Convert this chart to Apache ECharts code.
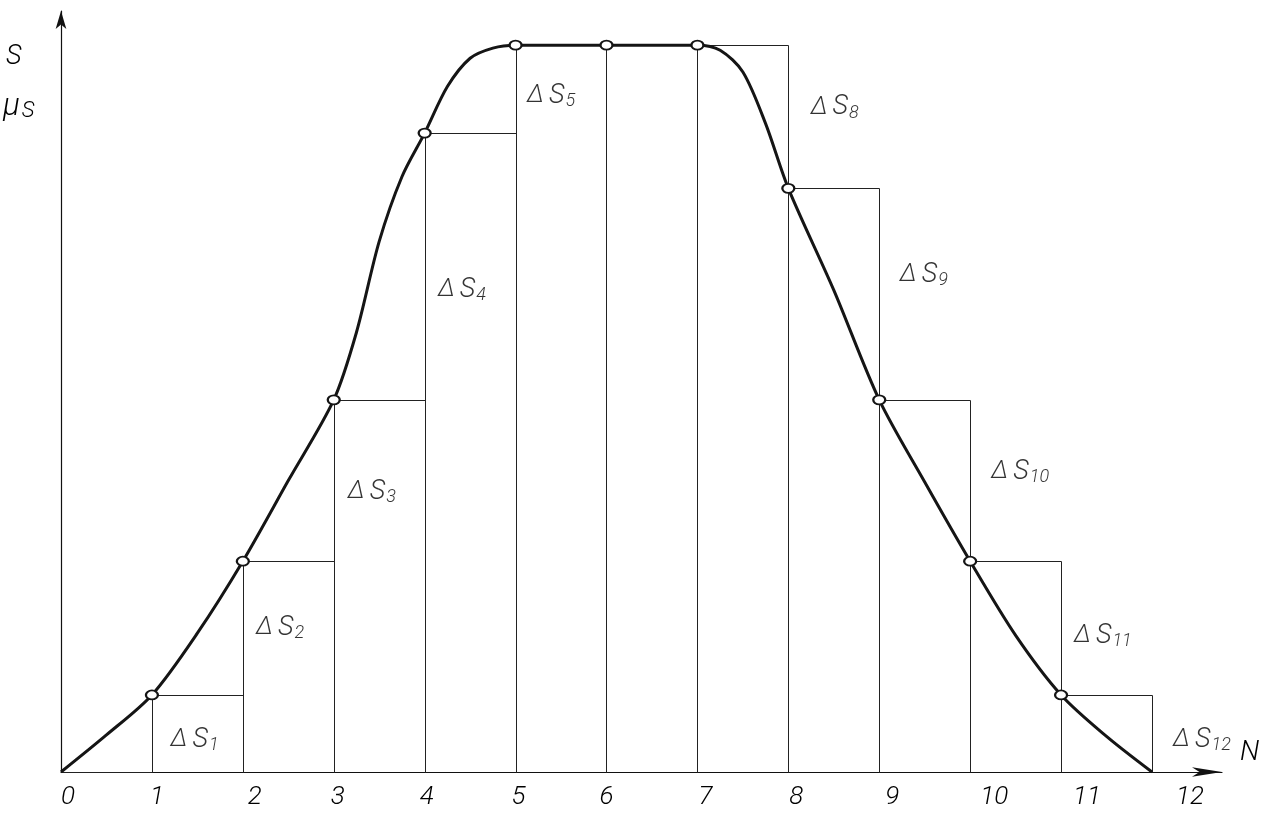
<!DOCTYPE html>
<html>
<head>
<meta charset="utf-8">
<script src="https://cdn.jsdelivr.net/npm/echarts@6/dist/echarts.min.js"></script>
<style>
html,body{margin:0;padding:0;background:#fff;}
#chart{width:1269px;height:819px;}
</style>
</head>
<body>
<div id="chart"></div>
<script>
// Node values (S at N = 0..12)
const nodeN = [0, 1, 2, 3, 4, 5, 6, 7, 8, 9, 10, 11, 12];
const nodeS = [0, 10.6, 29.0, 51.2, 87.9, 100, 100, 100, 80.3, 51.2, 29.0, 10.6, 0];

// Curve (N, S)
const curveN = [0, 0.5, 1, 1.5, 2, 2.5, 3, 3.25, 3.5, 3.75, 4, 4.25, 4.5, 4.75, 5, 5.5, 6, 6.5, 7, 7.25, 7.5, 7.75, 8, 8.5, 9, 9.5, 10, 10.5, 11, 11.5, 12];
const curveS = [0, 5.1, 10.6, 19.1, 29.0, 40.1, 51.2, 60.5, 73.0, 81.9, 87.9, 94.3, 98.2, 99.6, 100, 100, 100, 100, 100, 99.3, 96.3, 89.2, 80.3, 66.3, 51.2, 39.9, 29.0, 18.8, 10.6, 4.9, 0];

// Tick labels
const tickLabels = ['0','1','2','3','4','5','6','7','8','9','10','11','12'];

// Increment labels ΔS_k
const deltaIdx = [1, 2, 3, 4, 5, 8, 9, 10, 11, 12];
// label anchor positions (data units)
const deltaPosN = [1.47, 2.41, 3.42, 4.41, 5.39, 8.51, 9.49, 10.55, 11.46, 12.55];
const deltaPosS = [4.4, 19.8, 38.5, 66.3, 93.0, 91.4, 68.4, 41.3, 18.7, 4.4];
// horizontal shift of tick labels (px)
const tickShift = [7, 5, 12, 4, 2, 3, 0, 8, 8, 13, 24, 26, 38];

const FONT = "Roboto, 'Open Sans', sans-serif";
const FW = 300;

const chart = echarts.init(document.getElementById('chart'), null, {renderer: 'canvas'});

const stepData = nodeS.slice(0, 12).map((s, i) => [nodeN[i], s]);
const curveData = curveN.map((n, i) => [n, curveS[i]]);
const nodeData = nodeN.map((n, i) => [n, nodeS[i]]).slice(1, 12);
const deltaData = deltaIdx.map((k, i) => ({value: [deltaPosN[i], deltaPosS[i]], k: k}));

const tickRich = {};
tickLabels.forEach((t, i) => {
  tickRich['t' + i] = {padding: [0, 0, 0, 2 * tickShift[i]], fontFamily: FONT, fontWeight: FW, fontStyle: 'italic', fontSize: 26, color: '#000'};
});

const option = {
  animation: false,
  backgroundColor: '#fff',
  grid: {left: 61, right: 47, top: 11, bottom: 47, containLabel: false},
  xAxis: {
    type: 'value', min: 0, max: 12.77, interval: 1,
    axisLine: {show: true, symbol: ['none', 'arrow'], symbolSize: [7, 30], lineStyle: {color: '#111', width: 1.2}},
    axisTick: {show: false},
    splitLine: {show: false},
    axisLabel: {
      margin: 12,
      formatter: v => (v >= 0 && v <= 12 && Number.isInteger(v)) ? '{t' + v + '|' + tickLabels[v] + '}' : '',
      rich: tickRich
    },
    name: 'N', nameLocation: 'end', nameGap: 18,
    nameTextStyle: {fontFamily: FONT, fontWeight: FW, fontStyle: 'italic', fontSize: 28, color: '#000', verticalAlign: 'bottom', padding: [0, 0, 5, 0]}
  },
  yAxis: {
    type: 'value', min: 0, max: 104.7,
    axisLine: {show: true, symbol: ['none', 'arrow'], symbolSize: [8, 18], lineStyle: {color: '#111', width: 1.2}},
    axisTick: {show: false},
    splitLine: {show: false},
    axisLabel: {show: false}
  },
  graphic: [
    {type: 'text', left: 6, top: 44, style: {text: 'S', font: 'italic 300 27px ' + FONT, fill: '#000'}},
    {type: 'text', left: 3, top: 92, style: {text: '{m|μ}{s|S}', fill: '#000',
      rich: {m: {fontFamily: FONT, fontWeight: FW, fontStyle: 'italic', fontSize: 31, color: '#000'},
             s: {fontFamily: FONT, fontWeight: FW, fontStyle: 'italic', fontSize: 22, color: '#000', padding: [8, 0, 0, 2]}}}}
  ],
  series: [
    {
      type: 'custom',
      name: 'steps',
      data: stepData,
      silent: true,
      z: 1,
      renderItem: function (params, api) {
        const i = api.value(0), h = api.value(1);
        const p0 = api.coord([i, 0]);
        const p1 = api.coord([i + 1, h]);
        const x0 = Math.round(p0[0]) + 0.5, x1 = Math.round(p1[0]) + 0.5;
        const yTop = Math.round(p1[1]) + 0.5, yBot = Math.round(p0[1]) + 0.5;
        return {
          type: 'polyline',
          shape: {points: [[x0, yBot], [x0, yTop], [x1, yTop], [x1, yBot]]},
          style: {fill: null, stroke: '#222', lineWidth: 1}
        };
      }
    },
    {
      type: 'line',
      name: 'curve',
      data: curveData,
      smooth: 0.3,
      showSymbol: false,
      symbol: 'none',
      lineStyle: {color: '#151515', width: 3},
      z: 3
    },
    {
      type: 'scatter',
      name: 'nodes',
      data: nodeData,
      symbol: 'circle',
      symbolSize: [12, 9],
      itemStyle: {color: '#fff', borderColor: '#151515', borderWidth: 2, opacity: 1},
      z: 4
    },
    {
      type: 'scatter',
      name: 'labels',
      data: deltaData,
      symbolSize: 0,
      clip: false,
      silent: true,
      z: 5,
      label: {
        show: true, position: 'inside',
        formatter: p => '{d|Δ}{s|S}{k|' + p.data.k + '}',
        rich: {
          d: {fontFamily: FONT, fontWeight: FW, fontStyle: 'italic', fontSize: 25, color: '#000', padding: [0, 5, 0, 0]},
          s: {fontFamily: FONT, fontWeight: FW, fontStyle: 'italic', fontSize: 27, color: '#000'},
          k: {fontFamily: FONT, fontWeight: FW, fontStyle: 'italic', fontSize: 18, color: '#000', padding: [11, 0, 0, 1]}
        }
      }
    }
  ]
};
chart.setOption(option);
</script>
</body>
</html>
